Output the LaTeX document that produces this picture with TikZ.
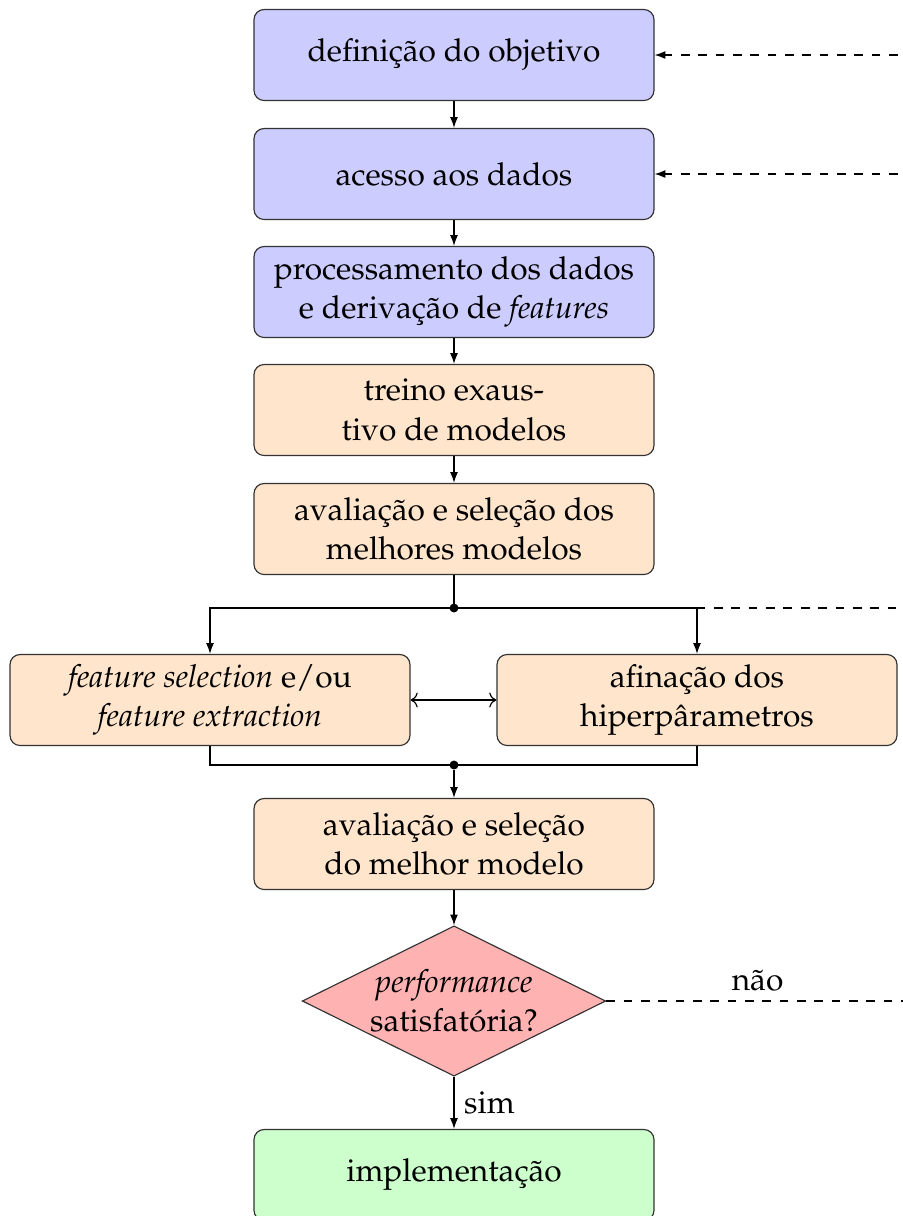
\documentclass[tikz,border=0pt]{standalone}
\usepackage[T1]{fontenc}
\usepackage{mathpazo}
\usetikzlibrary{shapes.geometric,arrows.meta}

\tikzset{
  stepbox/.style={draw=black!80, rounded corners=3.5pt, minimum width=138.4pt,
    minimum height=31.5pt, align=center, inner sep=2pt,
    font=\fontsize{10.95pt}{13.6pt}\selectfont},
  prep/.style={stepbox, fill=blue!20},
  model/.style={stepbox, fill=orange!20},
  done/.style={stepbox, fill=green!20},
  decision/.style={diamond, draw=black!80, fill=red!30, aspect=2, inner sep=0pt,
    minimum width=105pt, minimum height=52pt, align=center,
    font=\fontsize{10.95pt}{13.6pt}\selectfont},
  flow/.style={-{Latex[length=3.7pt,width=2.7pt]}},
  feedback/.style={dashed},
  joint/.style={circle, fill=black, inner sep=0pt, minimum size=3.1pt},
  lbl/.style={font=\fontsize{10.95pt}{13.6pt}\selectfont},
}

\begin{document}
\begin{tikzpicture}[x=0.346pt, y=-0.346pt]
  \useasboundingbox (0,0) rectangle (903,1216);

  % preparation stages
  \node[prep]  (obj)  at (454,55)  {defini\c{c}\~ao do objetivo};
  \node[prep]  (data) at (454,174) {acesso aos dados};
  \node[prep]  (proc) at (454,292) {processamento dos dados\\e deriva\c{c}\~ao de \textit{features}};

  % modelling stages
  \node[model] (train) at (454,410) {treino exaus-\\tivo de modelos};
  \node[model] (eval1) at (454,529) {avalia\c{c}\~ao e sele\c{c}\~ao dos\\melhores modelos};
  \node[model] (feat)  at (210,700) {\textit{feature selection} e/ou\\\textit{feature extraction}};
  \node[model] (hyper) at (697,700) {afina\c{c}\~ao dos\\hiperp\^arametros};
  \node[model] (eval2) at (454,844) {avalia\c{c}\~ao e sele\c{c}\~ao\\do melhor modelo};

  \node[decision] (ok) at (454,1001) {\textit{performance}\\satisfat\'oria?};
  \node[done] (impl) at (454,1175) {implementa\c{c}\~ao};

  % junction points
  \node[joint] (split) at (454,608) {};
  \node[joint] (merge) at (454,765) {};

  % free ends of the feedback lines
  \coordinate (fb1) at (915,55);
  \coordinate (fb2) at (915,174);
  \coordinate (fb3) at (915,608);
  \coordinate (fb4) at (915,1001);

  % main flow
  \draw[flow] (obj) -- (data);
  \draw[flow] (data) -- (proc);
  \draw[flow] (proc) -- (train);
  \draw[flow] (train) -- (eval1);
  \draw (eval1) -- (split.center);
  \draw[flow] (split.center) -| (feat.north);
  \draw[flow] (split.center) -| (hyper.north);
  \draw[<->] (feat) -- (hyper);
  \draw (feat.south) |- (merge.center);
  \draw (hyper.south) |- (merge.center);
  \draw[flow] (merge) -- (eval2);
  \draw[flow] (eval2) -- (ok);
  \draw[flow] (ok) -- node[lbl, right] {sim} (impl);

  % feedback lines
  \draw[feedback, flow] (fb1) -- (obj);
  \draw[feedback, flow] (fb2) -- (data);
  \draw[feedback] (split.center) -- (fb3);
  \draw[feedback] (ok.east) -- node[lbl, above, pos=0.49] {n\~ao} (fb4);
\end{tikzpicture}
\end{document}
